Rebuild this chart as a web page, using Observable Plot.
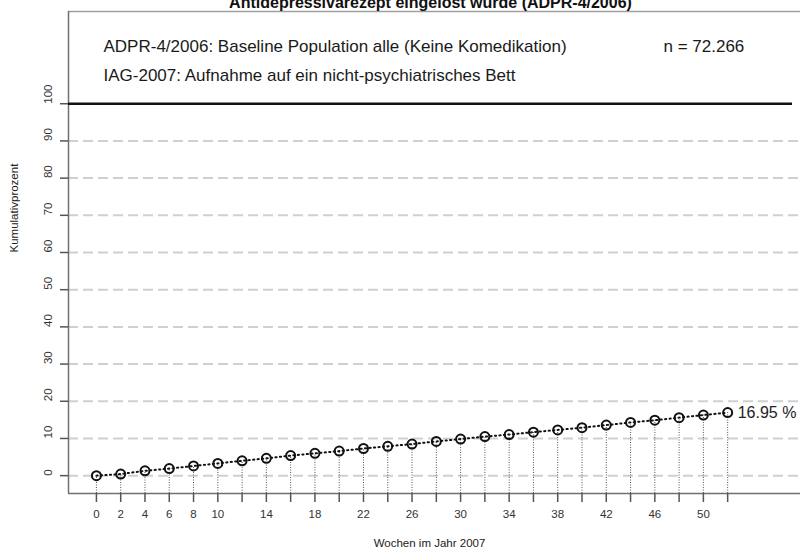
<!DOCTYPE html>
<html>
<head>
<meta charset="utf-8">
<script src="https://cdn.jsdelivr.net/npm/d3@7"></script>
<script src="https://cdn.jsdelivr.net/npm/@observablehq/plot@0.6"></script>
<style>
  html, body { margin: 0; padding: 0; background: #fff; }
  #chart svg { display: block; }
</style>
</head>
<body>
<div id="chart"></div>
<script>
// ---- data ----
const weeks = [0,2,4,6,8,10,12,14,16,18,20,22,24,26,28,30,32,34,36,38,40,42,44,46,48,50,52];
const values = [0,0.43,1.3,1.9,2.6,3.3,4.0,4.65,5.4,6.0,6.6,7.3,7.9,8.5,9.2,9.85,10.5,11.05,11.7,12.3,12.9,13.6,14.3,14.9,15.6,16.3,16.95];
const xTickLabels = [0,2,4,6,8,10,14,18,22,26,30,34,38,42,46,50];
const yTicks = [0,10,20,30,40,50,60,70,80,90,100];
const gridValues = [0,10,20,30,40,50,60,70,80,90];
const refLine = [100];
const endLabel = "16.95 %";
const title = "Antidepressivarezept eingelöst wurde (ADPR-4/2006)";
const note1 = "ADPR-4/2006: Baseline Population alle (Keine Komedikation)";
const note2 = "IAG-2007: Aufnahme auf ein nicht-psychiatrisches Bett";
const noteN = "n = 72.266";
const xLabel = "Wochen im Jahr 2007";
const yLabel = "Kumulativprozent";

const xDomain = [-2.3, 58];
const yDomain = [-4.8, 124.8];

const data = weeks.map((w, i) => ({week: w, value: values[i]}));
const last = data[data.length - 1];

const font = "'Liberation Sans', Arial, Helvetica, sans-serif";

const chart = Plot.plot({
  width: 800,
  height: 550,
  marginLeft: 68,
  marginRight: 0,
  marginTop: 11,
  marginBottom: 57,
  style: {fontFamily: font, background: "#fff", overflow: "visible"},
  x: {domain: xDomain},
  y: {domain: yDomain},
  marks: [
    // dashed gridlines
    Plot.ruleY(gridValues, {stroke: "#d0d0d0", strokeWidth: 2, strokeDasharray: "10,5"}),
    // frame top, left, bottom
    Plot.ruleY([yDomain[1]], {stroke: "#a0a0a0", strokeWidth: 1.5}),
    Plot.ruleX([xDomain[0]], {stroke: "#707070", strokeWidth: 1.5}),
    Plot.ruleY([yDomain[0]], {stroke: "#707070", strokeWidth: 1.5}),
    // 100% reference line
    Plot.ruleY(refLine, {stroke: "#111", strokeWidth: 2.5, insetRight: 8}),
    // drop lines
    Plot.ruleX(data, {x: "week", y1: yDomain[0], y2: "value", stroke: "#555", strokeWidth: 1, strokeDasharray: "1,1.5"}),
    // connecting dotted line
    Plot.line(data, {x: "week", y: "value", stroke: "#111", strokeWidth: 2, strokeDasharray: "1.2,3.3"}),
    // points
    Plot.dot(data, {x: "week", y: "value", r: 4.5, stroke: "#111", strokeWidth: 2, fill: "none"}),
    // end label
    Plot.text([last], {x: "week", y: "value", text: () => endLabel, textAnchor: "start", dx: 10, fontSize: 16, fill: "#222"}),
    // x axis ticks and labels
    Plot.axisX({ticks: weeks, tickSize: 9, tickPadding: 7, tickFormat: d => xTickLabels.includes(d) ? String(d) : "", stroke: "#555", strokeWidth: 1.5, fontSize: 11.5, fill: "#333", label: null}),
    // y axis ticks
    Plot.axisY({ticks: yTicks, tickSize: 8, tickFormat: () => "", stroke: "#555", strokeWidth: 1.5, label: null}),
    // y tick labels (rotated)
    Plot.text(yTicks, {y: d => d, text: d => String(d), frameAnchor: "left", dx: -20, rotate: -90, fontSize: 11.5, fill: "#333"}),
    // axis titles
    Plot.text([yLabel], {text: d => d, frameAnchor: "left", dx: -54, rotate: -90, fontSize: 11.5, fill: "#222"}),
    Plot.text([xLabel], {text: d => d, frameAnchor: "bottom", dy: 53, dx: -5, fontSize: 11.5, fill: "#222"}),
    // annotations
    Plot.text([note1], {text: d => d, frameAnchor: "top-left", dx: 35, dy: 35, textAnchor: "start", lineAnchor: "middle", fontSize: 17, fill: "#1a1a1a"}),
    Plot.text([note2], {text: d => d, frameAnchor: "top-left", dx: 35, dy: 64, textAnchor: "start", lineAnchor: "middle", fontSize: 17, fill: "#1a1a1a"}),
    Plot.text([noteN], {text: d => d, frameAnchor: "top-left", dx: 595, dy: 35, textAnchor: "start", lineAnchor: "middle", fontSize: 17, fill: "#1a1a1a"}),
    // title (partially clipped at top, as in the reference)
    Plot.text([title], {text: d => d, frameAnchor: "top", dx: -4, dy: -4, lineAnchor: "bottom", fontSize: 16, fontWeight: "bold", fill: "#111"})
  ]
});
document.getElementById("chart").appendChild(chart);
</script>
</body>
</html>
